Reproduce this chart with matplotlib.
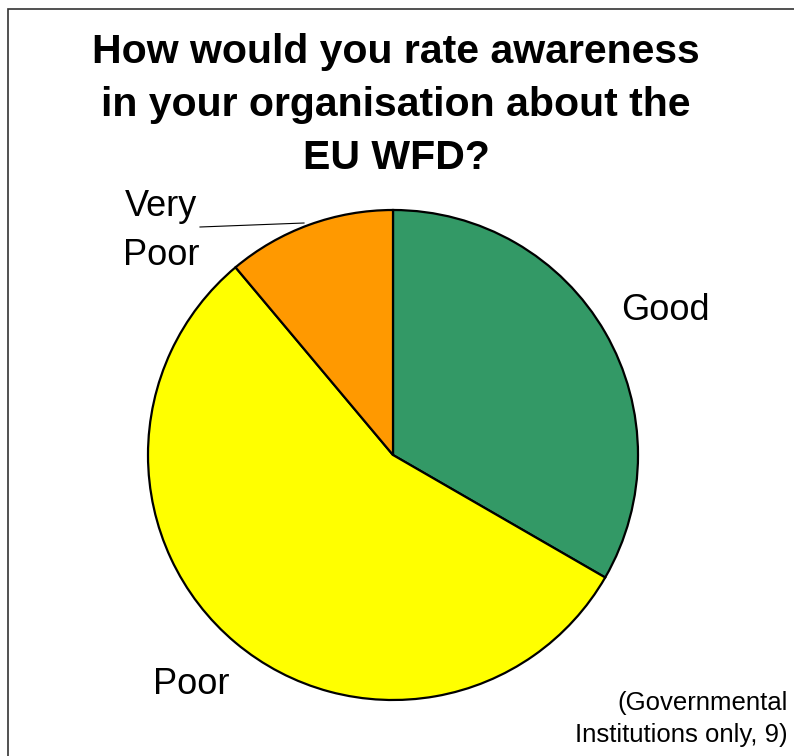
import matplotlib
matplotlib.use("Agg")
import matplotlib.pyplot as plt
from matplotlib.patches import Rectangle

# Survey answers (9 governmental institutions)
labels = ["Good", "Poor", "Very Poor"]
counts = [3, 5, 1]
colours = ["#339966", "#FFFF00", "#FF9900"]

title = "How would you rate awareness\nin your organisation about the\nEU WFD?"
note = "(Governmental\nInstitutions only, 9)"

plt.rcParams['font.family'] = ['Liberation Sans', 'DejaVu Sans']

W, H = 794, 756
fig = plt.figure(figsize=(W/100, H/100), dpi=100, facecolor='white')
ax = fig.add_axes([0, 0, 1, 1])
ax.set_axis_off()

# frame round the chart (right and bottom edges run off the picture)
ax.add_patch(Rectangle((8, -5), W, H - 4, fill=False,
                       edgecolor='#333333', linewidth=1.2))

cx, cy, r = 393, H - 455, 245
ax.pie(counts, colors=colours, startangle=90, counterclock=False,
       center=(cx, cy), radius=r,
       wedgeprops=dict(edgecolor='black', linewidth=1.6))
ax.set_xlim(0, W)
ax.set_ylim(0, H)
ax.set_aspect('equal')

ax.text(W/2 - 1, H - 105, title, ha='center', va='center',
        fontsize=29.5, fontweight='bold', linespacing=1.5)

ax.text(665, H - 311, labels[0], ha='center', va='center', fontsize=26)
ax.text(191, H - 684, labels[1], ha='center', va='center', fontsize=26)
ax.text(161, H - 231, "Very\nPoor", ha='center', va='center',
        fontsize=26, linespacing=1.55)
ax.plot([200, 304], [H - 227, H - 223], color='black', linewidth=0.8)

ax.text(788, H - 719, note, ha='right', va='center', fontsize=18.5,
        linespacing=1.4)

fig.savefig('out.png', dpi=100)
